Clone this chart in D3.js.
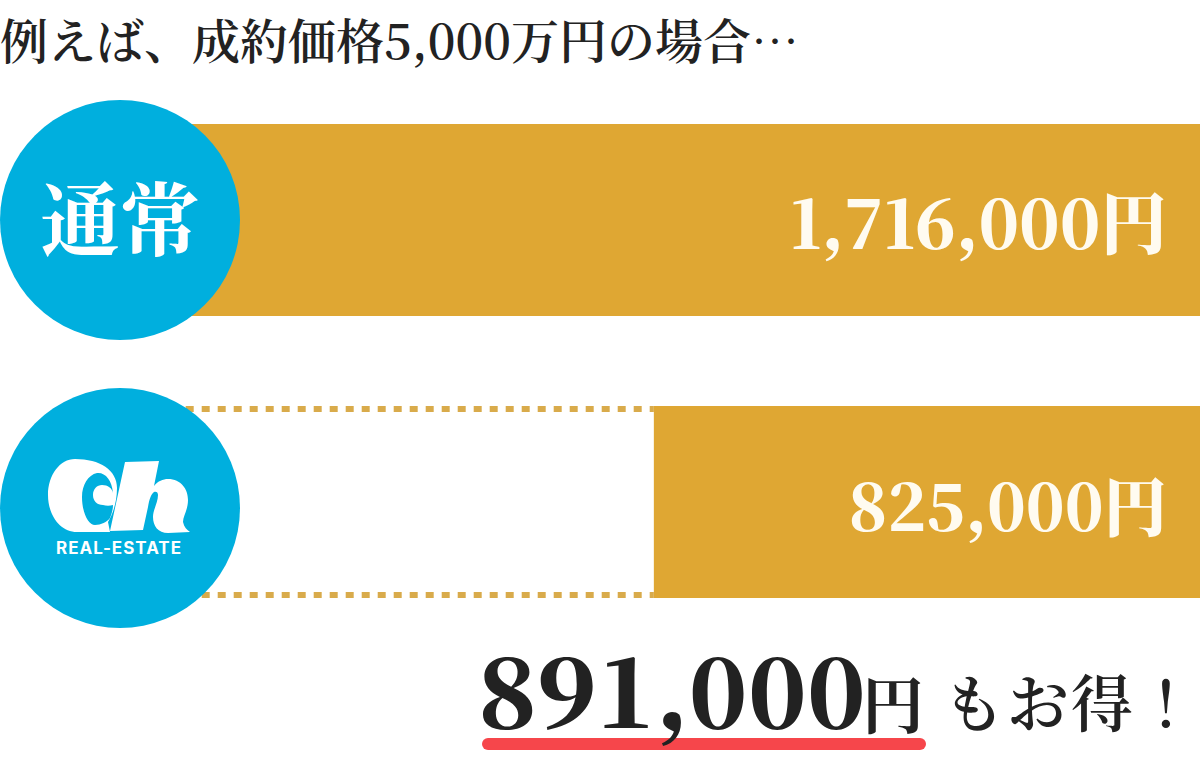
<!DOCTYPE html>
<html><head><meta charset="utf-8">
<script src="https://cdn.jsdelivr.net/npm/d3@7"></script>
<style>html,body{margin:0;padding:0;background:#fff}svg{display:block}
text{font-family:"Noto Serif CJK JP","Liberation Serif","Noto Sans CJK JP",serif}</style></head><body>
<script>
const categories = ["通常", "ch REAL-ESTATE"];
const fees = [1716000, 825000];
const savings = [891000];
const valueLabels = ["1,716,000円", "825,000円"];
const valueSizes = [66.5, 63.5];
const titleText = "例えば、成約価格5,000万円の場合…";
const savingsNumber = "891,000";
const savingsUnit = "円";
const savingsTail = "もお得！";

const W = 1200, H = 770;
const gold = "#dfa733", blue = "#00afde", ink = "#222222", red = "#f6464b";
const svg = d3.select("body").append("svg").attr("width", W).attr("height", H);

const x = d3.scaleLinear().domain([0, d3.max(fees)]).range([W, 64]);
const y = d3.scaleBand().domain(categories).range([124, 598]).paddingInner(90 / 282).paddingOuter(0);

svg.append("text").attr("x", 0).attr("y", 59).attr("font-size", 48).attr("font-weight", 600).attr("fill", ink).text(titleText);

svg.selectAll("rect.bar").data(fees).join("rect").attr("class", "bar")
  .attr("x", d => x(d)).attr("width", d => W - x(d))
  .attr("y", (d, i) => y(categories[i])).attr("height", y.bandwidth()).attr("fill", gold);

const savedRow = categories[1];
[y(savedRow) + 3, y(savedRow) + y.bandwidth() - 3].forEach(yy => {
  svg.append("line").attr("x1", x(fees[0])).attr("x2", x(fees[1]))
    .attr("y1", yy).attr("y2", yy).attr("stroke", "#d9ab4b").attr("stroke-width", 6)
    .attr("stroke-dasharray", "8 8").attr("stroke-dashoffset", -9.7);
});

const rc = 120;
svg.selectAll("circle.badge").data(categories).join("circle").attr("class", "badge")
  .attr("cx", rc).attr("cy", c => y(c) + y.bandwidth() / 2 + (c === savedRow ? 6 : 0)).attr("r", rc).attr("fill", blue);

svg.selectAll("text.val").data(valueLabels).join("text").attr("class", "val")
  .attr("x", 1167).attr("y", (d, i) => y(categories[i]) + 125).attr("text-anchor", "end")
  .attr("font-size", (d, i) => valueSizes[i]).attr("font-weight", 900).attr("fill", "#fffbf0").text(d => d);

svg.append("text").attr("x", 120).attr("y", 249).attr("text-anchor", "middle")
  .attr("font-size", 80).attr("font-weight", 700).attr("fill", "#fff").text(categories[0]);

const logo = svg.append("g").attr("fill", "#fff");
logo.append("path").attr("d",
 "M75 459C100 459 117 470 117 488C117 503 112 516 108 522L110 532L77 532C60 532 48 515 48 495C48 475 60 459 75 459Z");
logo.append("path").attr("d",
 "M125 462L159 461L154 486C158 481 163 479 168 479C181 479 188 489 188 500C188 510 183 516 183 522C184 527 187 530 190 532L168 533C158 533 153 526 153 517C153 510 158 502 158 495C158 492 156 491 154 492C151 494 149 500 148 507L143 530L110 531Z");
logo.append("path").attr("fill", blue).attr("d",
 "M113 493C112 480 105 472 97 473C88 475 82 485 82 497C82 512 88 525 95 525C101 525 107 522 110 518C112 513 113 509 113 505C110 506 106 506 103 505C97 505 93 501 93 495C93 489 97 485 102 485C108 485 112 488 113 493Z");
logo.append("text").attr("x", 119).attr("y", 554).attr("text-anchor", "middle")
  .style("font-family", "Inter, Roboto, sans-serif").attr("font-size", 17).attr("font-weight", 700).attr("letter-spacing", 1).text("REAL-ESTATE");

const sx = d3.scaleLinear().domain([0, savings[0]]).range([482, 926]);
svg.append("rect").attr("x", sx(0)).attr("width", sx(savings[0]) - sx(0)).attr("y", 738).attr("height", 12).attr("rx", 6).attr("fill", red);
svg.append("text").attr("x", 478).attr("y", 728).attr("font-size", 97).attr("font-weight", 900).attr("fill", ink).text(savingsNumber);
svg.append("text").attr("x", 862).attr("y", 729).attr("font-size", 62).attr("font-weight", 700).attr("fill", ink).text(savingsUnit);
svg.append("text").attr("x", 943).attr("y", 727).attr("font-size", 62).attr("font-weight", 600).attr("letter-spacing", 2).attr("fill", ink).text(savingsTail);
</script></body></html>
